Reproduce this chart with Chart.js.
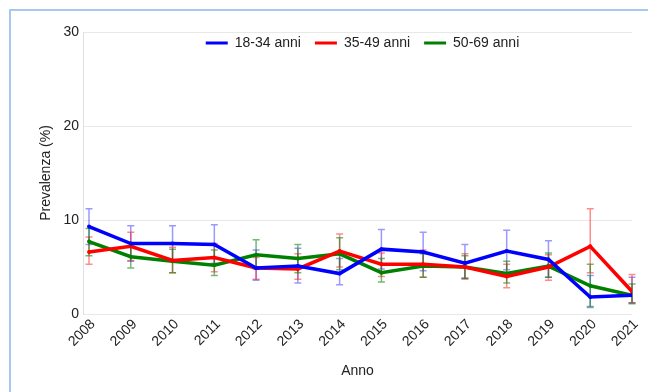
<!DOCTYPE html>
<html>
<head>
<meta charset="utf-8">
<script src="https://cdn.jsdelivr.net/npm/chart.js@4"></script>
<style>
  html, body { margin: 0; padding: 0; background: #fff; }
  #wrap { position: relative; width: 648px; height: 392px; overflow: hidden; }
  #frame { position: absolute; left: 9px; top: 9px; width: 700px; height: 450px;
           border-left: 2px solid #a6c8ea; border-top: 2px solid #a6c8ea; }
  canvas { position: absolute; left: 0; top: 0; }
</style>
</head>
<body>
<div id="wrap">
  <div id="frame"></div>
  <canvas id="c" width="648" height="392"></canvas>
</div>
<script>
// Survey years
const years = [2008, 2009, 2010, 2011, 2012, 2013, 2014, 2015, 2016, 2017, 2018, 2019, 2020, 2021];

// Prevalence (%) by age group
const prev1834 = [9.3, 7.5, 7.5, 7.4, 4.9, 5.1, 4.3, 6.9, 6.6, 5.4, 6.7, 5.8, 1.8, 2.0];
const prev3549 = [6.6, 7.2, 5.7, 6.0, 4.9, 4.8, 6.7, 5.3, 5.3, 5.0, 4.0, 5.0, 7.2, 2.4];
const prev5069 = [7.7, 6.1, 5.6, 5.2, 6.3, 5.9, 6.4, 4.4, 5.1, 5.0, 4.3, 5.1, 3.0, 2.0];

// 95% confidence limits
const low1834  = [7.4, 5.6, 5.7, 5.4, 3.6, 3.3, 3.1, 4.8, 4.6, 3.8, 4.7, 3.9, 0.7, 1.2];
const high1834 = [11.2, 9.4, 9.4, 9.5, 6.8, 7.0, 5.9, 9.0, 8.7, 7.4, 8.9, 7.8, 4.1, 3.9];
const low3549  = [5.3, 5.7, 4.4, 4.5, 3.7, 3.7, 5.0, 4.0, 3.9, 3.7, 2.8, 3.6, 4.4, 1.2];
const high3549 = [8.2, 8.7, 7.1, 7.5, 6.0, 6.4, 8.5, 6.5, 6.8, 6.4, 5.3, 6.3, 11.2, 4.2];
const low5069  = [6.2, 4.9, 4.4, 4.1, 4.8, 4.4, 4.7, 3.4, 3.9, 3.8, 3.3, 3.9, 0.8, 1.1];
const high5069 = [9.1, 7.3, 6.9, 6.8, 7.9, 7.4, 8.1, 5.9, 6.4, 6.2, 5.6, 6.5, 5.3, 3.2];

const seriesLabels = ['18-34 anni', '35-49 anni', '50-69 anni'];
const yTicks = [0, 10, 20, 30];

const FONT = "'Liberation Sans', Arial, sans-serif";
const colors = ['#0000ff', '#ff0000', '#008000'];
const errColors = ['rgba(0,0,255,0.4)', 'rgba(255,0,0,0.45)', 'rgba(0,128,0,0.55)'];

function series(vals) { return vals.map((v, i) => ({ x: years[i], y: v })); }

function makeDataset(i, vals, lo, hi) {
  return {
    label: seriesLabels[i],
    data: series(vals),
    errLow: lo,
    errHigh: hi,
    borderColor: colors[i],
    backgroundColor: colors[i],
    borderWidth: 3.5,
    pointRadius: 2,
    pointBorderWidth: 0,
    tension: 0
  };
}

// Vertical confidence-interval whiskers, drawn beneath the lines
const errorBars = {
  id: 'errorBars',
  beforeDatasetsDraw(chart) {
    const { ctx, scales: { x, y } } = chart;
    ctx.save();
    chart.data.datasets.forEach((ds, di) => {
      ctx.strokeStyle = errColors[di];
      ctx.lineWidth = 1.5;
      ds.data.forEach((p, j) => {
        const px = x.getPixelForValue(p.x);
        const yl = y.getPixelForValue(ds.errLow[j]);
        const yh = y.getPixelForValue(ds.errHigh[j]);
        ctx.beginPath();
        ctx.moveTo(px, yl); ctx.lineTo(px, yh);
        ctx.moveTo(px - 3.5, yl); ctx.lineTo(px + 3.5, yl);
        ctx.moveTo(px - 3.5, yh); ctx.lineTo(px + 3.5, yh);
        ctx.stroke();
      });
    });
    ctx.restore();
  }
};

// Legend drawn inside the plot area, near its top edge
const innerLegend = {
  id: 'innerLegend',
  afterDraw(chart) {
    const { ctx, chartArea } = chart;
    ctx.save();
    ctx.font = '14px ' + FONT;
    ctx.textBaseline = 'middle';
    ctx.textAlign = 'left';
    const lineLen = 22, gap = 7, itemGap = 14;
    const items = chart.data.datasets.map(ds => ({ ds, w: ctx.measureText(ds.label).width }));
    const total = items.reduce((s, it) => s + lineLen + gap + it.w, 0) + itemGap * (items.length - 1);
    let cx = (chartArea.left + chartArea.right) / 2 + 5 - total / 2;
    const cy = chartArea.top + 11;
    items.forEach(it => {
      ctx.strokeStyle = it.ds.borderColor;
      ctx.lineWidth = 3;
      ctx.beginPath();
      ctx.moveTo(cx, cy); ctx.lineTo(cx + lineLen, cy);
      ctx.stroke();
      ctx.fillStyle = '#222';
      ctx.fillText(it.ds.label, cx + lineLen + gap, cy);
      cx += lineLen + gap + it.w + itemGap;
    });
    ctx.restore();
  }
};

new Chart(document.getElementById('c'), {
  type: 'line',
  data: {
    datasets: [
      makeDataset(0, prev1834, low1834, high1834),
      makeDataset(1, prev3549, low3549, high3549),
      makeDataset(2, prev5069, low5069, high5069)
    ]
  },
  plugins: [errorBars, innerLegend],
  options: {
    responsive: false,
    animation: false,
    devicePixelRatio: 1,
    layout: { padding: { left: 0, right: 16, top: 32, bottom: 0 } },
    plugins: {
      legend: { display: false },
      tooltip: { enabled: false }
    },
    scales: {
      x: {
        type: 'linear',
        min: 2007.856,
        max: years[years.length - 1],
        afterBuildTicks(scale) { scale.ticks = years.map(v => ({ value: v })); },
        afterFit(scale) { scale.height = 78; },
        grid: { display: false, drawTicks: false },
        border: { display: false },
        ticks: {
          autoSkip: false,
          minRotation: 45,
          maxRotation: 45,
          padding: 2,
          labelOffset: 4,
          color: '#222',
          font: { family: FONT, size: 14 },
          callback: v => String(v)
        },
        title: {
          display: true,
          text: 'Anno',
          color: '#222',
          font: { family: FONT, size: 14 },
          padding: { top: 0, bottom: 12 }
        }
      },
      y: {
        min: 0,
        max: 30,
        afterBuildTicks(scale) { scale.ticks = yTicks.map(v => ({ value: v })); },
        afterFit(scale) { scale.width = 83; },
        grid: { color: '#e8e8e8', drawTicks: false, lineWidth: 1 },
        border: { color: '#e0e0e0' },
        ticks: {
          padding: 4,
          color: '#222',
          font: { family: FONT, size: 14 }
        },
        title: {
          display: true,
          text: 'Prevalenza (%)',
          color: '#222',
          font: { family: FONT, size: 14 },
          padding: { top: 38, bottom: 0 }
        }
      }
    }
  }
});
</script>
</body>
</html>
